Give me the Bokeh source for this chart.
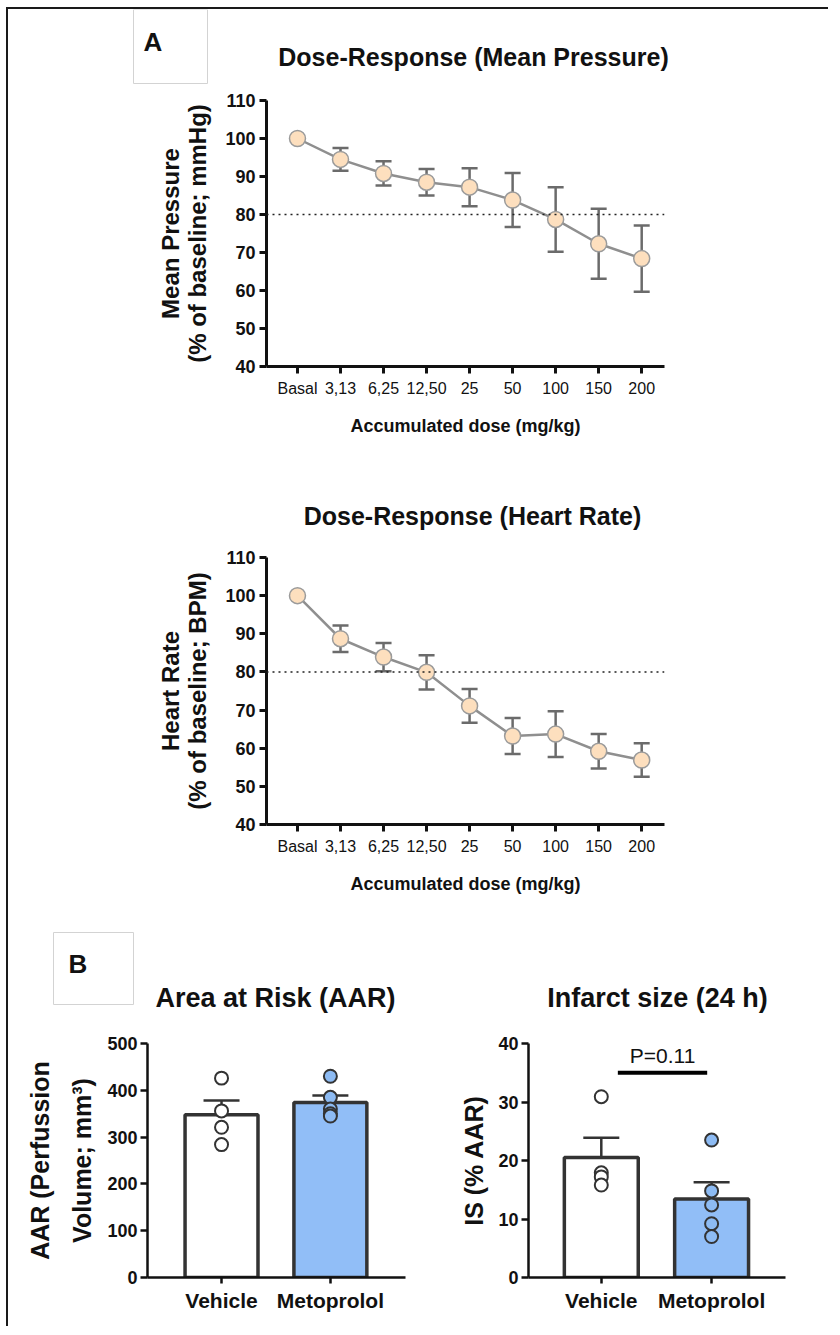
from bokeh.plotting import figure
from bokeh.models import ColumnDataSource, Whisker, TeeHead, Span, Range1d, FixedTicker
from bokeh.layouts import column, row
from bokeh.embed import file_html
from bokeh.resources import INLINE
from bokeh.core.properties import value

# ---------------- data ----------------
doses = ["Basal", "3,13", "6,25", "12,50", "25", "50", "100", "150", "200"]
map_mean = [100, 94.5, 90.8, 88.5, 87.2, 83.8, 78.7, 72.3, 68.4]
map_sem = [0, 3.0, 3.2, 3.5, 5.0, 7.1, 8.5, 9.2, 8.7]
hr_mean = [100, 88.7, 83.9, 79.9, 71.1, 63.2, 63.7, 59.2, 56.9]
hr_sem = [0, 3.5, 3.7, 4.5, 4.4, 4.7, 6.0, 4.5, 4.4]
threshold = 80

groups = ["Vehicle", "Metoprolol"]
aar_mean = [348, 374]
aar_sem = [30, 15]
aar_vehicle = [426, 356, 321, 284]
aar_metoprolol = [430, 385, 360, 350, 345]
is_mean = [20.5, 13.4]
is_sem = [3.4, 2.9]
is_vehicle = [30.9, 17.9, 17.2, 15.8]
is_metoprolol = [23.5, 14.8, 12.4, 9.2, 7.0]
p_text = "P=0.11"
p_bracket_x = [0.15, 0.96]
p_bracket_y = 35
p_text_y = 38

FONT = "Liberation Sans"
TXT = "#111111"
ERR = "#6b6b6b"


def header(height, y0, items, boxes):
    """A figure without axes whose data units are page pixels, for titles and panel letters."""
    h = figure(width=820, height=height, x_range=Range1d(8, 828), y_range=Range1d(y0 + height, y0),
               x_axis_type=None, y_axis_type=None, min_border=0, output_backend="svg",
               toolbar_location=None, outline_line_color=None, frame_align=False,
               background_fill_color="white", border_fill_color="white")
    for (l, r, t, b) in boxes:
        h.quad(left=[l], right=[r], top=[t], bottom=[b], fill_color="white",
               line_color="#d3d3d3", line_width=1)
    for (txt, x, y, size, align) in items:
        h.text(x=[x], y=[y], text=[txt], text_align=align, text_baseline="middle",
               text_font=value(FONT), text_font_style="bold", text_font_size=size, text_color=TXT)
    return h


def style_axes(p, tick_size, lw=3):
    for ax in (p.xaxis[0], p.yaxis[0]):
        ax.axis_line_width = lw
        ax.axis_line_color = "#111111"
        ax.major_tick_line_width = lw
        ax.major_tick_line_color = "#111111"
        ax.major_tick_in = 0
        ax.major_tick_out = 7
        ax.minor_tick_line_color = None
        ax.axis_label_text_font = FONT
        ax.axis_label_text_font_style = "bold"
        ax.axis_label_text_color = TXT
        ax.major_label_text_color = TXT
    p.yaxis.major_label_text_font = FONT
    p.yaxis.major_label_text_font_style = "bold"
    p.yaxis.major_label_text_font_size = tick_size


def dose_plot(ylab, means, sems, height, top, bottom):
    p = figure(width=820, height=height, x_range=Range1d(-0.72, 8.53), y_range=Range1d(40, 110),
               output_backend="svg", toolbar_location=None, frame_align=False,
               min_border_left=258, min_border_right=164, min_border_top=top, min_border_bottom=bottom,
               outline_line_color=None, background_fill_color="white", border_fill_color="white")
    p.grid.visible = False
    x = list(range(len(doses)))
    ex = [x[i] for i in range(len(x)) if sems[i] > 0]
    up = [means[i] + sems[i] for i in range(len(x)) if sems[i] > 0]
    lo = [means[i] - sems[i] for i in range(len(x)) if sems[i] > 0]
    src = ColumnDataSource(dict(x=ex, upper=up, lower=lo))
    w = Whisker(source=src, base="x", upper="upper", lower="lower", line_color=ERR, line_width=2.5,
                upper_head=TeeHead(size=16, line_color=ERR, line_width=2.5),
                lower_head=TeeHead(size=16, line_color=ERR, line_width=2.5), level="underlay")
    p.add_layout(w)
    p.add_layout(Span(location=threshold, dimension="width", line_color="#222222",
                      line_width=1.6, line_dash="2 4"))
    p.line(x, means, line_color="#8f8f8f", line_width=2.5)
    p.scatter(x, means, size=16, fill_color="#FDDFBE", line_color="#9b9b9b", line_width=1.5)

    p.xaxis.ticker = FixedTicker(ticks=x)
    p.xaxis.major_label_overrides = {i: d for i, d in enumerate(doses)}
    p.yaxis.ticker = FixedTicker(ticks=list(range(40, 111, 10)))
    style_axes(p, "18px")
    p.xaxis.major_label_text_font = FONT
    p.xaxis.major_label_text_font_size = "16px"
    p.xaxis.major_label_standoff = 6
    p.xaxis.axis_label = "Accumulated dose (mg/kg)"
    p.xaxis.axis_label_text_font_size = "18px"
    p.xaxis.axis_label_standoff = 16
    p.yaxis.axis_label = ylab
    p.yaxis.axis_label_text_font_size = "24px"
    p.yaxis.axis_label_text_line_height = 1.0
    p.yaxis.axis_label_standoff = 11
    p.yaxis.major_label_standoff = 4
    return p


def bar_plot(ylab, means, sems, pts, ymax, ystep, xr, left, right, lh, lstand):
    p = figure(width=410, height=296, x_range=Range1d(*xr), y_range=Range1d(0, ymax),
               output_backend="svg", toolbar_location=None, frame_align=False,
               min_border_left=left, min_border_right=right, min_border_top=13, min_border_bottom=49,
               outline_line_color=None, background_fill_color="white", border_fill_color="white")
    p.grid.visible = False
    xs = [0, 1]
    p.vbar(x=xs, top=means, width=0.67, fill_color=["white", "#91BEF7"], line_color="#333333", line_width=3.5)
    src = ColumnDataSource(dict(x=xs, upper=[m + s for m, s in zip(means, sems)],
                                lower=[m - s for m, s in zip(means, sems)]))
    p.add_layout(Whisker(source=src, base="x", upper="upper", lower="lower", line_color="#333333",
                         line_width=2.5,
                         upper_head=TeeHead(size=36, line_color="#333333", line_width=2.5),
                         lower_head=TeeHead(size=36, line_color="#333333", line_width=2.5)))
    p.scatter([0] * len(pts[0]), pts[0], size=13, fill_color="white", line_color="#333333", line_width=2)
    p.scatter([1] * len(pts[1]), pts[1], size=13, fill_color="#8DBBF3", line_color="#333333", line_width=2)
    p.xaxis.ticker = FixedTicker(ticks=xs)
    p.xaxis.major_label_overrides = {i: g for i, g in enumerate(groups)}
    p.yaxis.ticker = FixedTicker(ticks=list(range(0, ymax + 1, ystep)))
    style_axes(p, "18px", lw=2.5)
    p.xaxis.major_tick_out = 6
    p.xaxis.major_label_text_font = FONT
    p.xaxis.major_label_text_font_style = "bold"
    p.xaxis.major_label_text_font_size = "21px"
    p.xaxis.major_label_standoff = 5
    p.yaxis.axis_label = ylab
    p.yaxis.axis_label_text_font_size = "25px"
    p.yaxis.axis_label_text_line_height = lh
    p.yaxis.axis_label_standoff = lstand
    p.yaxis.major_label_standoff = 3
    return p


h1 = header(81, 9, [("A", 143, 41, "26px", "left"),
                    ("Dose-Response (Mean Pressure)", 473, 56, "25px", "center")],
            [(133, 207, 9, 83)])
p1 = dose_plot("Mean Pressure\n(% of baseline; mmHg)", map_mean, map_sem, 380, 10, 104)

h2 = header(75, 470, [("Dose-Response (Heart Rate)", 472, 515, "25px", "center")], [])
p2 = dose_plot("Heart Rate\n(% of baseline; BPM)", hr_mean, hr_sem, 375, 12, 96)

h3 = header(110, 920, [("B", 68, 963, "26px", "left"),
                       ("Area at Risk (AAR)", 275, 997, "27px", "center"),
                       ("Infarct size (24 h)", 657, 997, "27px", "center")],
            [(53, 133, 932, 1004)])

p3 = bar_plot("AAR (Perfussion\nVolume; mm³)", aar_mean, aar_sem, [aar_vehicle, aar_metoprolol],
              500, 100, (-0.68, 1.69), 139, 13, 1.5, 8)
p4 = bar_plot("IS (% AAR)", is_mean, is_sem, [is_vehicle, is_metoprolol],
              40, 10, (-0.66, 1.67), 110, 43, 1.0, 7)
p4.segment(x0=[p_bracket_x[0]], x1=[p_bracket_x[1]], y0=[p_bracket_y], y1=[p_bracket_y],
           line_color="black", line_width=4)
p4.text(x=[sum(p_bracket_x) / 2], y=[p_text_y], text=[p_text], text_align="center",
        text_baseline="middle", text_font=value(FONT), text_font_size="21px", text_color=TXT)

layout = column(h1, p1, h2, p2, h3, row(p3, p4), margin=(7, 0, 0, 6),
                styles={"border-top": "2px solid #1a1a1a", "border-left": "2px solid #1a1a1a"})

open("out.html", "w").write(file_html(layout, INLINE))
